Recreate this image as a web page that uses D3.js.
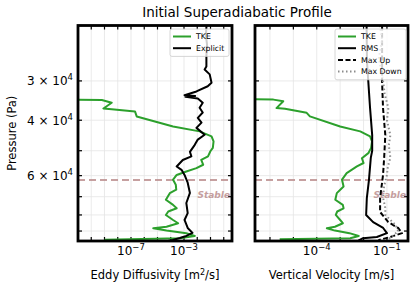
<!DOCTYPE html>
<html>
    <head>
        <meta charset="utf-8">
        <title></title>
        <style>
            body { margin: 0; background: #fff; }
            svg text { font-family: "DejaVu Sans", sans-serif; fill: #000; }
            svg .grid { stroke: #e4e4e4; stroke-width: 0.8; }
            svg .tick { stroke: #000; stroke-width: 1.2; }
            svg .frame { fill: none; stroke: #000; stroke-width: 2.8; }
        </style>
    </head>
    <body>
        <svg class="drawing"></svg>

        <script src="https://d3js.org/d3.v7.min.js"></script>
        <script>
            var w = 416;
            var h = 291;

            // [pressure (Pa), value]
            var tkeKz = [
                [34400, 1e-12], [34500, 6.3e-10], [35200, 3.5e-9], [36700, 8.3e-10], [36900, 3.5e-9],
                [37500, 2.0e-7], [38900, 2.7e-7], [41900, 1.5e-4], [43400, 1.5e-2], [45000, 0.12],
                [46700, 0.17], [49000, 0.15], [50200, 0.098], [52100, 0.065], [53500, 0.020],
                [55400, 0.028], [56800, 8.7e-3], [58200, 1.5e-3], [59700, 2.8e-4], [61800, 1.5e-4],
                [64100, 2.4e-4], [66500, 2.6e-4], [68200, 8.5e-5], [71600, 4.3e-5], [74300, 1.5e-4],
                [76200, 2.8e-4], [78000, 6.5e-5], [80000, 4.3e-5], [83000, 1.5e-4], [85000, 3.6e-4],
                [87200, 4.8e-5], [88200, 4.8e-6], [89700, 4.8e-5], [91400, 1.5e-3], [93300, 6.5e-3],
                [94900, 4.8e-4], [95900, 1e-9]
            ];
            var explicitKz = [
                [20000, 0.05], [21500, 0.045], [23000, 0.055], [25000, 0.049], [27000, 0.049],
                [27600, 0.036], [28600, 0.087], [30400, 0.12], [31200, 0.062], [32400, 8.7e-3],
                [33300, 1.1e-3], [33500, 7e-3], [33700, 1.3e-3], [34100, 0.011], [35200, 0.026],
                [36500, 0.015], [37800, 0.026], [39300, 0.011], [40700, 0.021], [42300, 8.7e-3],
                [44500, 0.036], [46100, 0.011], [47900, 6.5e-3], [50400, 2.8e-3], [52100, 3.6e-3],
                [53500, 8.1e-4], [56100, 2.8e-4], [57500, 6.5e-4], [59700, 1.1e-3], [63200, 1.9e-3],
                [68100, 2.8e-3], [73300, 1.5e-3], [78900, 1.9e-3], [83000, 1.1e-3], [88000, 1.9e-3],
                [91200, 4.4e-3], [93300, 1.5e-3], [94700, 4.8e-4], [96100, 1.4e-4], [97000, 5e-5]
            ];
            var tkeW = [
                [34200, 1e-8], [34400, 1.4e-6], [34800, 3.7e-6], [36600, 1.9e-6], [36800, 4.4e-6],
                [37900, 3.7e-5], [38900, 5.1e-5], [41900, 1.0e-3], [43400, 7.2e-3], [45000, 0.019],
                [46700, 0.023], [49000, 0.021], [50900, 0.016], [52800, 8.5e-3], [54700, 0.01],
                [56100, 5.2e-3], [58900, 1.9e-3], [61800, 1.2e-3], [65000, 1.4e-3], [68200, 7.2e-4],
                [71600, 6.2e-4], [74300, 1.3e-3], [76200, 1.4e-3], [78000, 7.5e-4], [80000, 6.5e-4],
                [83000, 1.0e-3], [85000, 1.3e-3], [87200, 6e-4], [88200, 2.7e-4], [89700, 6e-4],
                [91400, 2.5e-3], [93300, 6.2e-3], [94900, 2.7e-3], [95600, 2.6e-6]
            ];
            var rmsW = [
                [20000, 0.0135], [26000, 0.014], [30200, 0.016], [36600, 0.019], [44600, 0.0234],
                [50000, 0.0234], [52700, 0.0204], [62000, 0.017], [70700, 0.0138], [80000, 0.0129],
                [84300, 0.0257], [88000, 0.069], [91400, 0.10], [94000, 0.037], [94800, 0.0095],
                [96500, 0.006]
            ];
            var maxUpW = [
                [20000, 0.062], [30200, 0.062], [36600, 0.068], [44600, 0.085], [52700, 0.076],
                [59700, 0.068], [70700, 0.051], [78300, 0.051], [84300, 0.115], [88000, 0.30],
                [91400, 0.44], [94000, 0.14], [96200, 0.043]
            ];
            var maxDownW = [
                [20000, 0.05], [22200, 0.062], [25400, 0.045], [30200, 0.069], [33000, 0.08],
                [36600, 0.115], [40000, 0.1], [44600, 0.14], [48000, 0.12], [52700, 0.14],
                [56000, 0.11], [59700, 0.10], [65000, 0.075], [70700, 0.069], [76000, 0.085],
                [80000, 0.085], [86000, 0.23], [90000, 0.30], [93000, 0.19], [96000, 0.1]
            ];
            var stableP = 62000;

            var yTicks = [2e4, 3e4, 4e4, 5e4, 6e4, 7e4, 8e4, 9e4];
            var yLabels = [[3e4, '3', '4'], [4e4, '4', '4'], [6e4, '6', '4']];
            var leftDecades = d3.range(-11, 1);
            var rightDecades = d3.range(-6, 0);
            var leftLabels = [-7, -3];
            var rightLabels = [-4, -1];

            var svg = d3.select('.drawing').attr('width', w).attr('height', h);

            var yTop = 25.5, yBot = 241;
            var y = d3.scaleLog().domain([2e4, 96800]).range([yTop, yBot]);
            var xL = d3.scaleLog().domain([1e-11, Math.pow(10, 0.623)]).range([78, 232]);
            var xR = d3.scaleLog().domain([Math.pow(10, -6.64), Math.pow(10, -0.1)]).range([255, 408]);

            svg.append('text')
                .attr('x', 237).attr('y', 17)
                .attr('text-anchor', 'middle')
                .style('font-size', '13.5px')
                .text('Initial Superadiabatic Profile');

            svg.append('text')
                .attr('transform', 'translate(16,' + ((yTop + yBot) / 2) + ') rotate(-90)')
                .attr('text-anchor', 'middle')
                .style('font-size', '11.5px')
                .text('Pressure (Pa)');

            function panel(id, x, decades, labels, xlabel, xsup, xlabelEnd) {
                var x0 = x.range()[0], x1 = x.range()[1];
                var g = svg.append('g');
                g.append('clipPath').attr('id', id)
                    .append('rect').attr('x', x0).attr('y', yTop)
                    .attr('width', x1 - x0).attr('height', yBot - yTop);

                g.selectAll('.vg').data(decades).enter().append('line')
                    .attr('class', 'grid')
                    .attr('x1', d => x(Math.pow(10, d))).attr('x2', d => x(Math.pow(10, d)))
                    .attr('y1', yTop).attr('y2', yBot);
                g.selectAll('.hg').data(yTicks).enter().append('line')
                    .attr('class', 'grid')
                    .attr('x1', x0).attr('x2', x1)
                    .attr('y1', d => y(d)).attr('y2', d => y(d));

                // ticks, pointing in
                decades.forEach(function(d) {
                    var xx = x(Math.pow(10, d));
                    g.append('line').attr('class', 'tick').attr('x1', xx).attr('x2', xx).attr('y1', yTop).attr('y2', yTop + 4);
                    g.append('line').attr('class', 'tick').attr('x1', xx).attr('x2', xx).attr('y1', yBot).attr('y2', yBot - 4);
                });
                yTicks.forEach(function(d) {
                    var yy = y(d);
                    g.append('line').attr('class', 'tick').attr('x1', x0).attr('x2', x0 + 4).attr('y1', yy).attr('y2', yy);
                    g.append('line').attr('class', 'tick').attr('x1', x1).attr('x2', x1 - 4).attr('y1', yy).attr('y2', yy);
                });

                labels.forEach(function(d) {
                    var t = g.append('text')
                        .attr('x', x(Math.pow(10, d))).attr('y', 255)
                        .attr('text-anchor', 'middle')
                        .style('font-size', '12px');
                    t.append('tspan').text('10');
                    t.append('tspan').attr('dy', -5).style('font-size', '8.5px').text('\u2212' + (-d));
                });

                var xl = g.append('text')
                    .attr('x', (x0 + x1) / 2).attr('y', 279)
                    .attr('text-anchor', 'middle')
                    .style('font-size', '11.5px');
                xl.append('tspan').text(xlabel);
                if (xsup) {
                    xl.append('tspan').attr('dy', -4.5).style('font-size', '8px').text(xsup);
                    xl.append('tspan').attr('dy', 4.5).text(xlabelEnd);
                }

                // stable layer
                g.append('line')
                    .attr('x1', x0).attr('x2', x1)
                    .attr('y1', y(stableP)).attr('y2', y(stableP))
                    .attr('stroke', '#bc8f8f').attr('stroke-opacity', 0.85)
                    .attr('stroke-width', 2).attr('stroke-dasharray', '7,4');
                g.append('text')
                    .attr('x', x1 - 2).attr('y', 198)
                    .attr('text-anchor', 'end')
                    .style('font-size', '9px').style('font-weight', 'bold').style('font-style', 'italic')
                    .style('fill', '#bc8f8f').style('opacity', 0.85)
                    .text('Stable');

                return g.append('g').attr('clip-path', 'url(#' + id + ')');
            }

            function drawLine(g, x, data, color, width, dash) {
                var line = d3.line().x(d => x(d[1])).y(d => y(d[0]));
                g.append('path')
                    .datum(data)
                    .attr('d', line)
                    .attr('fill', 'none')
                    .attr('stroke', color)
                    .attr('stroke-width', width)
                    .attr('stroke-dasharray', dash || null)
                    .attr('stroke-linejoin', 'round');
            }

            function legend(x0, y0, bw, items) {
                var g = svg.append('g');
                g.append('rect')
                    .attr('x', x0).attr('y', y0).attr('width', bw).attr('height', items.length * 11.7 + 4)
                    .attr('rx', 2)
                    .attr('fill', 'white').attr('fill-opacity', 0.8)
                    .attr('stroke', '#cccccc').attr('stroke-width', 0.8);
                items.forEach(function(it, i) {
                    var yy = y0 + 7.5 + i * 11.7;
                    g.append('line')
                        .attr('x1', x0 + 3).attr('x2', x0 + 21)
                        .attr('y1', yy).attr('y2', yy)
                        .attr('stroke', it[1]).attr('stroke-width', it[2])
                        .attr('stroke-dasharray', it[3] || null);
                    g.append('text')
                        .attr('x', x0 + 26).attr('y', yy + 2.8)
                        .style('font-size', '7.8px')
                        .text(it[0]);
                });
            }

            var gl = panel('clipL', xL, leftDecades, leftLabels, 'Eddy Diffusivity [m', '2', '/s]');
            drawLine(gl, xL, tkeKz, '#2ca02c', 2);
            drawLine(gl, xL, explicitKz, '#000', 2);

            var gr = panel('clipR', xR, rightDecades, rightLabels, 'Vertical Velocity [m/s]');
            drawLine(gr, xR, tkeW, '#2ca02c', 2);
            drawLine(gr, xR, rmsW, '#000', 2);
            drawLine(gr, xR, maxUpW, '#000', 2, '5,2.5');
            drawLine(gr, xR, maxDownW, '#8c8c8c', 2, '1.5,2.5');

            // frames
            [xL, xR].forEach(function(x) {
                svg.append('rect').attr('class', 'frame')
                    .attr('x', x.range()[0]).attr('y', yTop)
                    .attr('width', x.range()[1] - x.range()[0]).attr('height', yBot - yTop);
            });

            yLabels.forEach(function(d) {
                var t = svg.append('text')
                    .attr('x', 73).attr('y', y(d[0]) + 4.5)
                    .attr('text-anchor', 'end')
                    .style('font-size', '12px');
                t.append('tspan').text(d[1] + ' \u00d7 10');
                t.append('tspan').attr('dy', -5).style('font-size', '8.5px').text(d[2]);
            });

            legend(170, 29, 59, [['TKE', '#2ca02c', 2], ['Explicit', '#000', 2]]);
            legend(335, 29, 71, [['TKE', '#2ca02c', 2], ['RMS', '#000', 2], ['Max Up', '#000', 2, '5,2.5'], ['Max Down', '#8c8c8c', 2, '1.5,2.5']]);
        </script>
    </body>
</html>
